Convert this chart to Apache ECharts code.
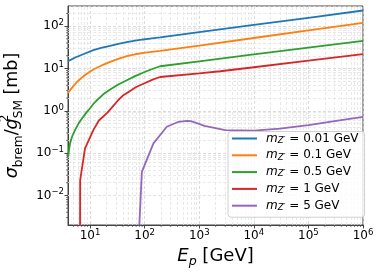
<!DOCTYPE html>
<html><head><meta charset="utf-8">
<script src="https://cdn.jsdelivr.net/npm/echarts@6/dist/echarts.min.js"></script>
<style>html,body{margin:0;padding:0;background:#fff}#c{width:381px;height:273px}</style>
</head><body><div id="c"></div>
<script>
// ---- data ----
const massLabels = ['0.01', '0.1', '0.5', '1', '5'];
const seriesColors = ['#1f77b4', '#ff7f0e', '#2ca02c', '#d62728', '#9467bd'];

const energy001 = [3.95, 5.5, 8.1, 11.5, 16, 23.3, 33, 47, 67, 95, 135, 192, 1000, 1e4, 1e5, 1e6];
const sigma001  = [14.9, 18.4, 22.6, 27.1, 30.8, 34.2, 38.2, 41.9, 45.4, 48.5, 51.4, 54.1, 72, 107, 158, 235];

const energy01 = [3.95, 4.77, 5.77, 6.84, 8.1, 9.6, 11.5, 16.3, 23.3, 33, 47, 67, 95, 192, 1000, 1e4, 1e5, 1e6];
const sigma01  = [2.65, 3.63, 4.79, 5.86, 7.0, 8.15, 9.5, 11.8, 14.3, 16.9, 19.5, 21.7, 23.4, 26.1, 34.7, 52.6, 79.5, 120];

const energy05 = [3.96, 4.3, 4.7, 5.3, 6.3, 7.5, 8.7, 10, 11.5, 13.2, 17.5, 23.3, 33, 47, 67, 95, 135, 192, 1000, 1e4, 1e5, 1e6];
const sigma05  = [0.08, 0.17, 0.247, 0.35, 0.525, 0.72, 0.93, 1.15, 1.45, 1.75, 2.45, 3.19, 4.2, 5.29, 6.6, 8.04, 9.6, 11.3, 14.8, 21.6, 31.2, 45];

const energy1 = [6.5, 6.6, 8.1, 11.5, 14.5, 20.2, 26, 33, 40, 50, 70, 100, 140, 192, 1000, 2430, 1e4, 1e5, 1e6];
const sigma1  = [1e-5, 0.023, 0.13, 0.35, 0.59, 0.87, 1.26, 1.8, 2.29, 2.76, 3.66, 4.49, 5.46, 6.3, 7.7, 8.6, 10.7, 15.3, 21.8];

const energy5 = [78, 89, 145, 255, 417, 600, 700, 910, 1250, 3000, 1e4, 3e4, 1e5, 3e5, 1e6];
const sigma5  = [0.001, 0.036, 0.17, 0.42, 0.55, 0.58, 0.57, 0.51, 0.44, 0.35, 0.34, 0.38, 0.46, 0.57, 0.72];

const xMin = 3.95, xMax = 1e6;
const yMin = 0.002, yMax = 300;

// ---- chart ----
const energies = [energy001, energy01, energy05, energy1, energy5];
const sigmas = [sigma001, sigma01, sigma05, sigma1, sigma5];
const FF = 'DejaVu Sans';
const AX = '#444';

function minorValues(lo, hi) {
  const out = [];
  for (let k = -4; k <= 7; k++) {
    for (let d = 2; d <= 9; d++) {
      const v = d * Math.pow(10, k);
      if (v > lo * 1.05 && v < hi * 0.95) out.push(v);
    }
  }
  return out;
}
const xMinor = minorValues(xMin, xMax);
const yMinor = minorValues(yMin, yMax);

function powLabel(v) {
  const e = Math.round(Math.log10(v));
  const s = e < 0 ? '\u2212' + (-e) : String(e);
  return '{b|10}{s|' + s + '}';
}
const tickRich = {
  b: {fontFamily: FF, fontSize: 12, lineHeight: 16, color: '#000'},
  s: {fontFamily: FF, fontSize: 8.5, lineHeight: 10, verticalAlign: 'top', color: '#000'}
};

const series = massLabels.map((m, i) => ({
  name: m,
  type: 'line',
  data: energies[i].map((e, j) => [e, sigmas[i][j]]),
  showSymbol: false,
  symbol: 'none',
  clip: true,
  color: seriesColors[i],
  lineStyle: {width: 1.8, color: seriesColors[i]},
  z: 3
}));

const gridStyle = {type: [3, 2], color: '#e3e3e3', width: 0.8};
series.unshift({
  name: 'minor-grid',
  type: 'line',
  data: [],
  z: 1,
  silent: true,
  markLine: {
    z: 1,
    silent: true,
    symbol: 'none',
    animation: false,
    label: {show: false},
    lineStyle: gridStyle,
    emphasis: {disabled: true},
    data: xMinor.map(v => ({xAxis: v})).concat(yMinor.map(v => ({yAxis: v})))
  }
});
// minor tick marks on the axes
series.push({
  name: 'minor-ticks-x', type: 'custom', silent: true, clip: false, z: 4,
  data: xMinor.map(v => [v, yMin]),
  renderItem: (params, api) => {
    const p = api.coord([api.value(0), api.value(1)]);
    return {type: 'line', shape: {x1: p[0], y1: p[1], x2: p[0], y2: p[1] + 2}, style: {stroke: AX, lineWidth: 0.7}};
  }
});
series.push({
  name: 'minor-ticks-y', type: 'custom', silent: true, clip: false, z: 4,
  data: yMinor.map(v => [xMin, v]),
  renderItem: (params, api) => {
    const p = api.coord([api.value(0), api.value(1)]);
    return {type: 'line', shape: {x1: p[0], y1: p[1], x2: p[0] - 2, y2: p[1]}, style: {stroke: AX, lineWidth: 0.7}};
  }
});

const chart = echarts.init(document.getElementById('c'), null, {renderer: 'canvas'});
chart.setOption({
  animation: false,
  backgroundColor: '#fff',
  grid: {left: 68, top: 6, width: 295, height: 219, show: true, borderColor: AX, borderWidth: 1,
         backgroundColor: 'transparent', outerBoundsMode: 'none', containLabel: false},
  xAxis: {
    type: 'log', logBase: 10, min: xMin, max: xMax,
    name: '{it|E}{sub|p}{n| [GeV]}',
    nameLocation: 'middle', nameGap: 16,
    nameTextStyle: {
      fontFamily: FF, color: '#000', fontSize: 18,
      rich: {
        it: {fontFamily: FF, fontSize: 18, fontStyle: 'italic', lineHeight: 24, color: '#000'},
        n: {fontFamily: FF, fontSize: 18, lineHeight: 24, color: '#000'},
        sub: {fontFamily: FF, fontSize: 12.6, fontStyle: 'italic', lineHeight: 14, verticalAlign: 'bottom', color: '#000'}
      }
    },
    axisLine: {show: true, lineStyle: {color: AX, width: 1}},
    axisTick: {show: true, length: 3.5, lineStyle: {color: AX}},
    axisLabel: {formatter: powLabel, rich: tickRich, margin: 3, showMinLabel: false, hideOverlap: false},
    splitLine: {show: true, lineStyle: {type: [3, 2], color: '#d2d2d2', width: 0.8}}
  },
  yAxis: {
    type: 'log', logBase: 10, min: yMin, max: yMax,
    name: '{it|\u03c3}{sub|brem}{n|/}{it|g}{sup|2}{sub|SM}{n| [mb]}',
    nameLocation: 'middle', nameGap: 40, nameRotate: 90,
    nameTextStyle: {
      fontFamily: FF, color: '#000', fontSize: 17,
      rich: {
        it: {fontFamily: FF, fontSize: 17.5, fontStyle: 'italic', lineHeight: 26, color: '#000'},
        n: {fontFamily: FF, fontSize: 17.5, lineHeight: 26, color: '#000'},
        sub: {fontFamily: FF, fontSize: 12.2, lineHeight: 12, verticalAlign: 'bottom', color: '#000'},
        sup: {fontFamily: FF, fontSize: 12.2, lineHeight: 12, verticalAlign: 'top', width: 0, color: '#000'}
      }
    },
    axisLine: {show: true, lineStyle: {color: AX, width: 1}},
    axisTick: {show: true, length: 3.5, lineStyle: {color: AX}},
    axisLabel: {formatter: powLabel, rich: tickRich, margin: 4, showMinLabel: false, showMaxLabel: false, hideOverlap: false},
    splitLine: {show: true, lineStyle: {type: [3, 2], color: '#d2d2d2', width: 0.8}}
  },
  legend: {
    data: massLabels,
    orient: 'vertical',
    left: 228, top: 131.5,
    itemWidth: 25, itemHeight: 2, icon: 'rect',
    itemGap: 4.3,
    padding: [1, 6, 5, 4],
    backgroundColor: 'rgba(255,255,255,0.8)',
    borderColor: '#d0d0d0', borderWidth: 1, borderRadius: 3,
    selectedMode: false,
    itemStyle: {borderWidth: 0},
    formatter: name => '{m|m}{z|Z\u2032}{t| = ' + name + ' GeV}',
    textStyle: {
      fontFamily: FF, fontSize: 12, color: '#000',
      rich: {
        m: {fontFamily: FF, fontSize: 12, fontStyle: 'italic', lineHeight: 13, padding: [0, 0, 0, 4], color: '#000'},
        z: {fontFamily: FF, fontSize: 8.5, fontStyle: 'italic', lineHeight: 9, verticalAlign: 'bottom', color: '#000'},
        t: {fontFamily: FF, fontSize: 12, lineHeight: 13, color: '#000'}
      }
    }
  },
  series: series
});
</script>
</body></html>
